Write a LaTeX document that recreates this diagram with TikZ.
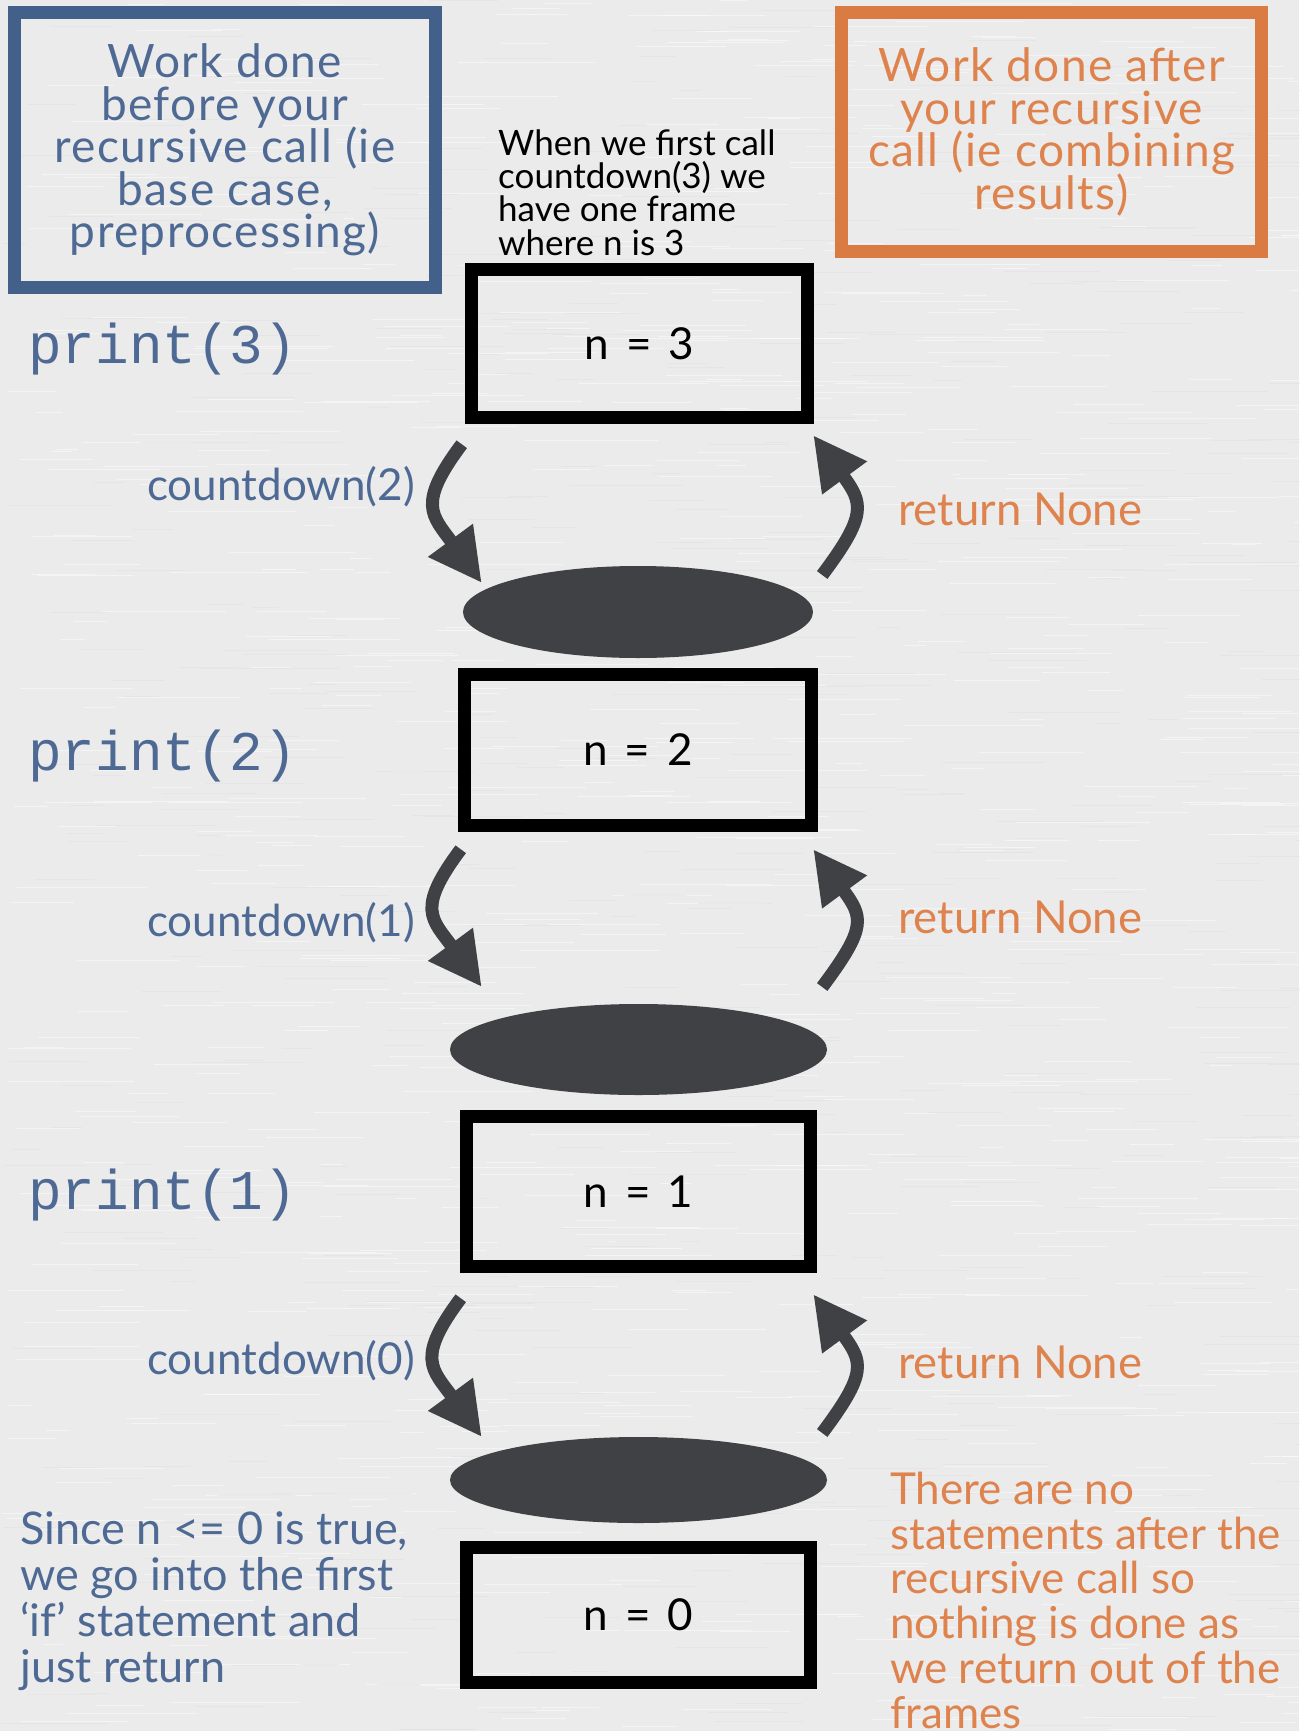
\documentclass[tikz,border=0pt]{standalone}
\usepackage{fontspec}
\setmainfont{Lato}
\setmonofont{Liberation Mono}
\usetikzlibrary{shapes.geometric,arrows.meta,calc}

\definecolor{paper}{RGB}{235,235,235}
\definecolor{streak}{RGB}{226,226,226}
\definecolor{preblue}{RGB}{66,96,138}
\definecolor{pretext}{RGB}{78,106,148}
\definecolor{postorange}{RGB}{217,123,66}
\definecolor{posttext}{RGB}{222,131,78}
\definecolor{stackgray}{RGB}{64,65,69}

\newcommand{\tightlines}{\lineskiplimit=-100pt\relax\lineskip=0pt\relax}
\newcommand{\widespaces}{\spaceskip=0.38em\relax}

\begin{document}
\begin{tikzpicture}[x=1pt,y=-1pt]
  \tikzset{
    headbox/.style={draw, line width=13pt, inner sep=0pt, align=center,
      font=\fontsize{46}{42.5}\selectfont\addfontfeatures{LetterSpace=3}\tightlines},
    framebox/.style={draw=black, line width=12.5pt, inner sep=0pt,
      minimum width=344pt, font=\fontsize{44}{44}\selectfont\widespaces},
    stackframe/.style={ellipse, fill=stackgray, inner sep=0pt},
    callarrow/.style={line width=13pt, draw=stackgray,
      -{Triangle[length=53pt,width=52pt]}},
    printlabel/.style={anchor=base west, inner sep=0pt, text=pretext,
      font=\ttfamily\fontsize{56}{56}\selectfont},
    calllabel/.style={anchor=base east, inner sep=0pt, text=pretext,
      font=\fontsize{44}{44}\selectfont},
    retlabel/.style={anchor=base west, inner sep=0pt, text=posttext,
      font=\fontsize{45.5}{45.5}\selectfont},
    note/.style={anchor=base west, inner sep=0pt, align=left}
  }

  % paper
  \fill[paper] (0,0) rectangle (1299,1731);
  \useasboundingbox (0,0) rectangle (1299,1731);
  \pgfmathsetseed{11}
  \foreach \k in {1,...,900} {
    \pgfmathsetmacro{\sx}{rnd*1299}
    \pgfmathsetmacro{\sy}{rnd*1731}
    \pgfmathsetmacro{\sl}{20+rnd*120}
    \draw[white, opacity=0.45, line width=1pt] (\sx,\sy) -- ++(\sl,0);
  }
  \foreach \k in {1,...,500} {
    \pgfmathsetmacro{\sx}{rnd*1299}
    \pgfmathsetmacro{\sy}{rnd*1731}
    \pgfmathsetmacro{\sl}{20+rnd*100}
    \draw[streak, opacity=0.6, line width=1pt] (\sx,\sy) -- ++(\sl,0);
  }

  % headings
  \node[headbox, draw=preblue, text=pretext, minimum width=421pt,
    minimum height=275pt] (before) at (225,150)
    {Work done\\before your\\recursive call (ie\\base case,\\preprocessing)};
  \node[headbox, draw=postorange, text=posttext, minimum width=420pt,
    minimum height=239pt] (after) at (1051.5,132)
    {Work done after\\your recursive\\call (ie combining\\results)};

  \node[note, font=\fontsize{35}{33.3}\selectfont\tightlines] (first) at (498,255)
    {When we first call\\countdown(3) we\\have one frame\\where n is 3};

  % frames
  \node[framebox, minimum width=336pt, minimum height=148pt] (n3) at (639.5,343.5) {n = 3};
  \node[framebox, minimum width=347pt, minimum height=151pt] (n2) at (638,750) {n = 2};
  \node[framebox, minimum height=150pt] (n1) at (638.5,1191.5) {n = 1};
  \node[framebox, minimum height=135pt] (n0) at (638.5,1615) {n = 0};

  % calls still to come
  \node[stackframe, minimum width=350pt, minimum height=92pt] (s2) at (638,612) {};
  \node[stackframe, minimum width=377pt, minimum height=91pt] (s1) at (638.5,1049.5) {};
  \node[stackframe, minimum width=377pt, minimum height=86pt] (s0) at (638.5,1480) {};

  % going down
  \draw[callarrow] ($(n3.south west)+(-3.5,20.5)$) .. controls +(-45,60) and +(-50,-68) .. ($(s2.west)+(19,-29)$);
  \draw[callarrow] ($(n2.south west)+(2.5,17.5)$) .. controls +(-45,60) and +(-50,-68) .. ($(s1.west)+(32,-62.5)$);
  \draw[callarrow] ($(n1.south west)+(0.5,25.5)$) .. controls +(-45,60) and +(-50,-68) .. ($(s0.west)+(32,-43)$);

  % coming back up
  \draw[callarrow] ($(s2.east)+(9,-37)$) .. controls +(45,-60) and +(50,68) .. ($(n3.south east)+(-0.5,11.5)$);
  \draw[callarrow] ($(s1.east)+(-5,-62.5)$) .. controls +(45,-60) and +(50,68) .. ($(n2.south east)+(-4.5,17.5)$);
  \draw[callarrow] ($(s0.east)+(-5,-47)$) .. controls +(45,-60) and +(50,68) .. ($(n1.south east)+(-3.5,21.5)$);

  \node[printlabel] (p3) at (28,363) {print(3)};
  \node[printlabel] (p2) at (28,770) {print(2)};
  \node[printlabel] (p1) at (28,1209) {print(1)};

  \node[calllabel] (c2) at (415,500) {countdown(2)};
  \node[calllabel] (c1) at (415,936) {countdown(1)};
  \node[calllabel] (c0) at (415,1374) {countdown(0)};

  \node[retlabel] (r2) at (898,525) {return None};
  \node[retlabel] (r1) at (898,933) {return None};
  \node[retlabel] (r0) at (898,1378) {return None};

  % base case and the way out
  \node[note, text=pretext, font=\fontsize{45}{45.7}\selectfont] (basecase) at (20,1682)
    {Since n <= 0 is true,\\we go into the first\\`if' statement and\\just return};
  \node[note, text=posttext, font=\fontsize{44}{44.7}\selectfont] (nothing) at (890,1728)
    {There are no\\statements after the\\recursive call so\\nothing is done as\\we return out of the\\frames};
\end{tikzpicture}
\end{document}
